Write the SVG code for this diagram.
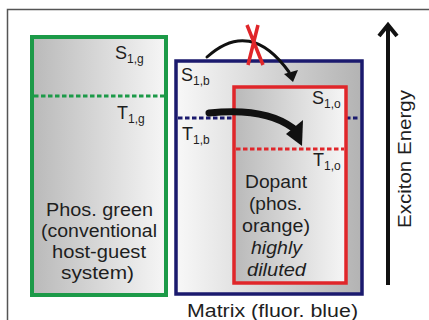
<svg xmlns="http://www.w3.org/2000/svg" width="429" height="320" viewBox="0 0 429 320">
<defs>
<linearGradient id="gL" x1="0" y1="0" x2="1" y2="0"><stop offset="0" stop-color="#b9b9b9"/><stop offset="1" stop-color="#f6f6f6"/></linearGradient>
<linearGradient id="gR" x1="0" y1="0" x2="1" y2="0"><stop offset="0" stop-color="#f8f8f8"/><stop offset="1" stop-color="#b3b3b3"/></linearGradient>
<style>
text{font-family:"Liberation Sans",Arial,sans-serif;fill:#1e1e1e}
.lab{font-size:18px}
.sub{font-size:12px}
.body{font-size:17.5px;text-anchor:middle}
.dot{stroke-width:3;stroke-dasharray:4.5 2.5;fill:none}
</style>
</defs>
<rect width="429" height="320" fill="#fff"/>
<path d="M7.5,320 V9.5 H429" fill="none" stroke="#555" stroke-width="1.5"/>

<g id="green">
<rect x="32" y="37" width="134" height="258" fill="url(#gL)" stroke="#1c9a48" stroke-width="4"/>
<line class="dot" x1="34" y1="96" x2="164" y2="96" stroke="#1c9a48"/>
<text class="lab" x="115" y="59">S<tspan class="sub" dy="4">1,g</tspan></text>
<text class="lab" x="117" y="119">T<tspan class="sub" dy="4">1,g</tspan></text>
<text class="body" x="99.5" y="216" textLength="107" lengthAdjust="spacingAndGlyphs">Phos. green</text>
<text class="body" x="99" y="237" textLength="116" lengthAdjust="spacingAndGlyphs">(conventional</text>
<text class="body" x="99" y="258" textLength="94" lengthAdjust="spacingAndGlyphs">host-guest</text>
<text class="body" x="97.5" y="279" textLength="73" lengthAdjust="spacingAndGlyphs">system)</text>
</g>

<g id="matrix">
<rect x="176" y="61" width="186" height="233" fill="url(#gR)" stroke="#1b1a6e" stroke-width="3.5"/>
<line class="dot" x1="178" y1="118" x2="360" y2="118" stroke="#1b1a6e"/>
<text class="lab" x="181" y="81">S<tspan class="sub" dy="4">1,b</tspan></text>
<text class="lab" x="182" y="140">T<tspan class="sub" dy="4">1,b</tspan></text>
<text class="body" x="272.5" y="317" textLength="171" lengthAdjust="spacingAndGlyphs">Matrix (fluor. blue)</text>
</g>

<g id="dopant">
<rect x="234" y="87" width="112" height="196" fill="url(#gL)" stroke="#e0262a" stroke-width="3.5"/>
<line class="dot" x1="236" y1="149" x2="344" y2="149" stroke="#e0262a"/>
<text class="lab" x="312" y="104">S<tspan class="sub" dy="4">1,o</tspan></text>
<text class="lab" x="313" y="166">T<tspan class="sub" dy="4">1,o</tspan></text>
<text class="body" x="276" y="188" textLength="62" lengthAdjust="spacingAndGlyphs">Dopant</text>
<text class="body" x="275.5" y="210" textLength="53" lengthAdjust="spacingAndGlyphs">(phos.</text>
<text class="body" x="276" y="232" textLength="68" lengthAdjust="spacingAndGlyphs">orange)</text>
<text class="body" x="276.5" y="254" font-style="italic" textLength="51" lengthAdjust="spacingAndGlyphs">highly</text>
<text class="body" x="276.5" y="276" font-style="italic" textLength="59" lengthAdjust="spacingAndGlyphs">diluted</text>
</g>

<g id="axis">
<line x1="388" y1="285" x2="388" y2="26" stroke="#111" stroke-width="4"/>
<path d="M379,36 L388,25 L397,36" fill="none" stroke="#111" stroke-width="4"/>
<text class="body" transform="translate(411,159) rotate(-90)" x="0" y="0" textLength="138" lengthAdjust="spacingAndGlyphs">Exciton Energy</text>
</g>

<g id="connectors">
<path d="M207,57 Q250,18 289,72" fill="none" stroke="#111" stroke-width="3" stroke-linecap="round"/>
<polygon points="284,74 298,70 293,82" fill="#111"/>
<path d="M247,25 L263,65 M258,25 L248,65" stroke="#e0262a" stroke-width="3.5" fill="none"/>
<path d="M209,113 Q265,107 293,128" fill="none" stroke="#111" stroke-width="7" stroke-linecap="round"/>
<polygon points="286,134 303,120 302,146" fill="#111"/>
</g>
</svg>
